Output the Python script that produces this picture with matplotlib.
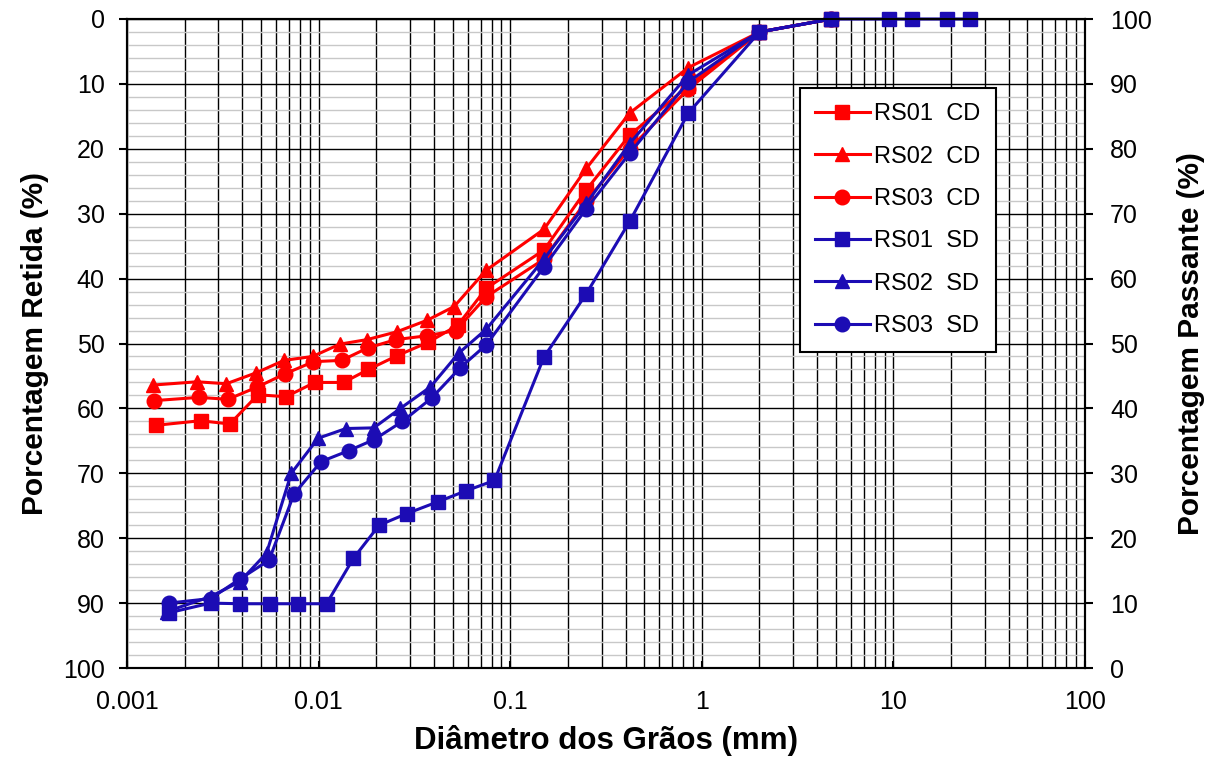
import matplotlib.pyplot as plt
import numpy as np
from matplotlib.ticker import LogLocator, FixedLocator, NullFormatter, FuncFormatter

plt.rcParams['font.family'] = ['Liberation Sans', 'DejaVu Sans']

# grain diameters (mm) and percentage retained for each sample
rs01_cd_x = [0.00142, 0.00242, 0.00344, 0.00482, 0.00676, 0.00955, 0.0135, 0.0182, 0.0256,
             0.0374, 0.0532, 0.075, 0.15, 0.25, 0.42, 0.85, 2.0, 4.75]
rs01_cd_y = [62.6, 61.9, 62.4, 57.9, 58.2, 56.0, 56.0, 54.0, 51.9,
             49.8, 47.2, 41.5, 35.6, 26.3, 17.9, 10.3, 2.0, 0.0]

rs02_cd_x = [0.00137, 0.00232, 0.0033, 0.00474, 0.0066, 0.0093, 0.0129, 0.0179, 0.0256,
             0.037, 0.051, 0.075, 0.15, 0.25, 0.42, 0.85, 2.0, 4.75]
rs02_cd_y = [56.4, 55.9, 56.2, 54.5, 52.6, 52.0, 50.1, 49.4, 48.2,
             46.4, 44.3, 38.7, 32.4, 23.0, 14.5, 7.5, 2.0, 0.0]

rs03_cd_x = [0.00139, 0.00237, 0.00336, 0.00479, 0.00665, 0.0094, 0.0132, 0.018, 0.0253,
             0.037, 0.052, 0.075, 0.15, 0.25, 0.42, 0.85, 2.0, 4.75]
rs03_cd_y = [58.8, 58.3, 58.6, 56.7, 54.7, 52.8, 52.6, 50.7, 49.4,
             48.8, 48.0, 42.8, 37.0, 28.0, 20.0, 10.8, 2.0, 0.0]

rs01_sd_x = [0.00165, 0.00273, 0.00391, 0.00557, 0.00781, 0.011, 0.0152, 0.0207, 0.0289,
             0.0418, 0.0588, 0.0828, 0.15, 0.25, 0.42, 0.85, 2.0, 4.75, 9.5, 12.5, 19.0, 25.0]
rs01_sd_y = [91.5, 90.0, 90.1, 90.1, 90.1, 90.1, 83.1, 78.0, 76.2,
             74.4, 72.7, 71.1, 52.1, 42.3, 31.2, 14.5, 2.0, 0.0, 0.0, 0.0, 0.0, 0.0]

rs02_sd_x = [0.00161, 0.00273, 0.00388, 0.00535, 0.0072, 0.00994, 0.0139, 0.0194, 0.0267,
             0.0383, 0.0538, 0.075, 0.15, 0.25, 0.42, 0.85, 2.0, 4.75]
rs02_sd_y = [91.3, 89.0, 86.7, 82.3, 70.0, 64.6, 63.1, 63.0, 60.0,
             56.7, 51.5, 47.8, 37.0, 28.4, 19.2, 8.6, 2.0, 0.0]

rs03_sd_x = [0.00165, 0.00273, 0.00388, 0.00551, 0.00744, 0.0103, 0.0144, 0.0195, 0.0274,
             0.0389, 0.055, 0.075, 0.15, 0.25, 0.42, 0.85, 2.0, 4.75]
rs03_sd_y = [90.0, 89.3, 86.3, 83.4, 73.2, 68.2, 66.5, 64.8, 62.0,
             58.4, 53.7, 50.2, 38.2, 29.2, 20.7, 9.7, 2.0, 0.0]

red = '#FF0000'
blue = '#1C0CB4'

fig = plt.figure(figsize=(12.2, 7.58), dpi=100)
ax = fig.add_axes([127 / 1220, 90 / 758, 958 / 1220, 649 / 758])

ax.set_xscale('log')
ax.set_xlim(0.001, 100)
ax.set_ylim(100, 0)

# grid: every decade line and sub-decade line black, horizontal minor grey
ax.xaxis.set_major_locator(FixedLocator([0.001, 0.01, 0.1, 1, 10, 100]))
ax.xaxis.set_minor_locator(LogLocator(base=10, subs=np.arange(2, 10), numticks=10))
ax.xaxis.set_major_formatter(FuncFormatter(lambda v, p: f'{v:g}'))
ax.xaxis.set_minor_formatter(NullFormatter())
ax.yaxis.set_major_locator(FixedLocator(np.arange(0, 101, 10)))
ax.yaxis.set_minor_locator(FixedLocator(np.arange(0, 101, 2)))
ax.grid(True, which='major', axis='both', color='black', linewidth=1.0)
ax.grid(True, which='minor', axis='x', color='black', linewidth=1.0)
ax.grid(True, which='minor', axis='y', color='#C8C8C8', linewidth=1.0)
ax.set_axisbelow(True)

series = [
    (rs01_cd_x, rs01_cd_y, red, 's', 'RS01  CD'),
    (rs02_cd_x, rs02_cd_y, red, '^', 'RS02  CD'),
    (rs03_cd_x, rs03_cd_y, red, 'o', 'RS03  CD'),
    (rs01_sd_x, rs01_sd_y, blue, 's', 'RS01  SD'),
    (rs02_sd_x, rs02_sd_y, blue, '^', 'RS02  SD'),
    (rs03_sd_x, rs03_sd_y, blue, 'o', 'RS03  SD'),
]
for xs, ys, c, m, lab in series:
    ms = 10 if m == 's' else 10.5
    ax.plot(xs, ys, color=c, marker=m, markersize=ms, linewidth=2.2,
            label=lab, clip_on=False, zorder=3)

for s in ax.spines.values():
    s.set_linewidth(1.5)
ax.tick_params(axis='y', which='major', direction='out', length=6, width=1.5,
               labelsize=18, pad=10)
ax.tick_params(axis='y', which='minor', length=0)
ax.tick_params(axis='x', which='major', direction='in', length=5, width=1.5,
               labelsize=18, pad=16)
ax.tick_params(axis='x', which='minor', length=0)

ax.set_xlabel('Diâmetro dos Grãos (mm)', fontsize=22.5, fontweight='bold', labelpad=8)
ax.set_ylabel('Porcentagem Retida (%)', fontsize=21.5, fontweight='bold', labelpad=10)

ax2 = ax.twinx()
ax2.set_ylim(0, 100)
ax2.set_yticks(np.arange(0, 101, 10))
ax2.tick_params(axis='y', direction='out', length=6, width=1.5, labelsize=18, pad=12)
ax2.set_ylabel('Porcentagem Passante (%)', fontsize=21.5, fontweight='bold', labelpad=18)
for s in ax2.spines.values():
    s.set_linewidth(1.5)

leg = ax.legend(loc='upper left', bbox_to_anchor=(800 / 1220, 1 - 88 / 758),
                bbox_transform=fig.transFigure, fontsize=17, frameon=True,
                fancybox=False, edgecolor='black', framealpha=1,
                handlelength=2.3, handletextpad=0.2, labelspacing=0.86,
                borderpad=0.65, borderaxespad=0)
leg.get_frame().set_linewidth(1.5)
leg.set_zorder(10)

fig.savefig('out.png', dpi=100)
